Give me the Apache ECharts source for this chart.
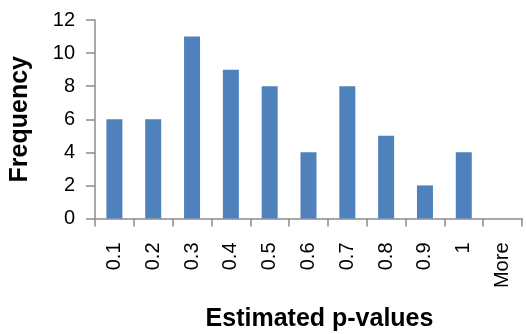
<!DOCTYPE html>
<html>
<head>
<meta charset="utf-8">
<script src="https://cdn.jsdelivr.net/npm/echarts@6/dist/echarts.min.js"></script>
<style>
  html, body { margin: 0; padding: 0; background: #fff; }
  #chart { width: 526px; height: 334px; }
</style>
</head>
<body>
<div id="chart"></div>
<script>
// Histogram bins and counts
const binLabels = ['0.1', '0.2', '0.3', '0.4', '0.5', '0.6', '0.7', '0.8', '0.9', '1', 'More'];
const frequencies = [6, 6, 11, 9, 8, 4, 8, 5, 2, 4, 0];
const yTicks = { min: 0, max: 12, interval: 2 };

const FONT = '"Liberation Sans", Arial, Helvetica, sans-serif';
const AXIS_GRAY = '#8c8c8c';

const chart = echarts.init(document.getElementById('chart'), null, { renderer: 'canvas' });
chart.setOption({
  animation: false,
  grid: { left: 95, right: 4, top: 20, bottom: 115.5, containLabel: false, outerBoundsMode: 'none' },
  xAxis: {
    type: 'category',
    data: binLabels,
    name: 'Estimated p-values',
    nameLocation: 'middle',
    nameGap: 88,
    nameTextStyle: { fontFamily: FONT, fontSize: 25, fontWeight: 'bold', color: '#000', padding: [0, 0, 0, 22] },
    axisLine: { lineStyle: { color: AXIS_GRAY, width: 1.5 } },
    axisTick: { show: true, length: 8, lineStyle: { color: AXIS_GRAY, width: 1.5 } },
    axisLabel: { rotate: 90, margin: 24, fontFamily: FONT, fontSize: 20, color: '#000' }
  },
  yAxis: {
    type: 'value',
    min: yTicks.min,
    max: yTicks.max,
    interval: yTicks.interval,
    name: 'Frequency',
    nameLocation: 'middle',
    nameGap: 62,
    nameRotate: 90,
    nameTextStyle: { fontFamily: FONT, fontSize: 25, fontWeight: 'bold', color: '#000' },
    splitLine: { show: false },
    axisLine: { show: true, lineStyle: { color: AXIS_GRAY, width: 1.5 } },
    axisTick: { show: true, length: 9, lineStyle: { color: AXIS_GRAY, width: 1.5 } },
    axisLabel: { margin: 20, fontFamily: FONT, fontSize: 20, color: '#000' }
  },
  series: [{
    type: 'bar',
    data: frequencies,
    barWidth: 16,
    itemStyle: { color: '#4f81bd' }
  }]
});
</script>
</body>
</html>
